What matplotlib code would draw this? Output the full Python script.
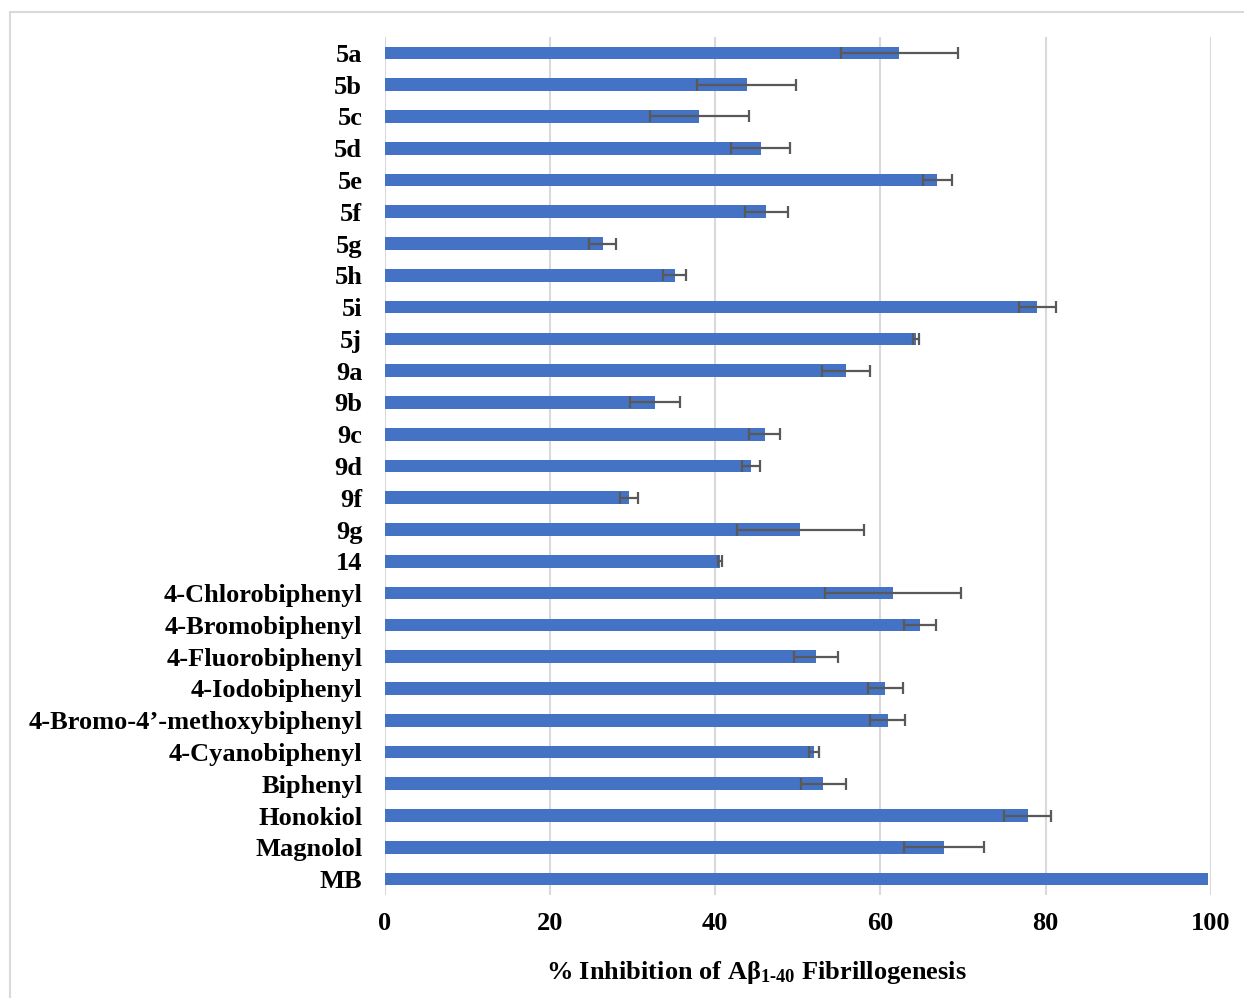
import matplotlib
matplotlib.use("Agg")
import matplotlib.pyplot as plt
import numpy as np
from matplotlib.patches import Rectangle

# data, top to bottom as in the chart
compounds = ["5a", "5b", "5c", "5d", "5e", "5f", "5g", "5h", "5i", "5j",
             "9a", "9b", "9c", "9d", "9f", "9g", "14",
             "4-Chlorobiphenyl", "4-Bromobiphenyl", "4-Fluorobiphenyl",
             "4-Iodobiphenyl", "4-Bromo-4\u2019-methoxybiphenyl",
             "4-Cyanobiphenyl", "Biphenyl", "Honokiol", "Magnolol", "MB"]
inhibition = [62.3, 43.8, 38.1, 45.5, 66.9, 46.2, 26.4, 35.1, 79.0, 64.3,
              55.8, 32.7, 46.0, 44.3, 29.6, 50.3, 40.6,
              61.5, 64.8, 52.2, 60.6, 60.9, 52.0, 53.1, 77.8, 67.7, 99.6]
error = [7.1, 6.0, 6.0, 3.6, 1.75, 2.6, 1.6, 1.4, 2.2, 0.4,
         2.9, 3.0, 1.9, 1.1, 1.1, 7.7, 0.2,
         8.2, 1.9, 2.7, 2.1, 2.1, 0.6, 2.7, 2.9, 4.8, np.nan]
xticks = [0, 20, 40, 60, 80, 100]

plt.rcParams['font.family'] = ['Liberation Serif', 'DejaVu Serif']
plt.rcParams['font.weight'] = 'bold'
plt.rcParams['mathtext.fontset'] = 'custom'
plt.rcParams['mathtext.rm'] = 'Liberation Serif:bold'
plt.rcParams['mathtext.bf'] = 'Liberation Serif:bold'
plt.rcParams['mathtext.it'] = 'Liberation Serif:bold'

W, H = 1244, 998
fig = plt.figure(figsize=(W / 100, H / 100), dpi=100)
ax = fig.add_axes([384.5 / W, 1 - 895 / H, (1211 - 384.5) / W, (895 - 37) / H])

# chart border
fig.patches.append(Rectangle((10 / W, -0.01), 1.0, 1 - 12 / H + 0.01,
                             transform=fig.transFigure, fill=False,
                             edgecolor='#d9d9d9', linewidth=1.5))

y = np.arange(len(compounds))
ax.barh(y, inhibition, height=0.4, color='#4472C4', zorder=2,
        xerr=error, error_kw=dict(ecolor='#595959', elinewidth=1.6,
                                  capsize=4.5, capthick=1.6, zorder=3))

ax.set_ylim(len(compounds) - 0.5, -0.5)
ax.set_xlim(0, 100)
ax.set_xticks(xticks)
ax.set_yticks(y)
ax.set_yticklabels(compounds)
ax.tick_params(axis='y', length=0, pad=16, labelsize=19)
ax.tick_params(axis='x', length=0, pad=12, labelsize=19)

ax.grid(axis='x', color='#d9d9d9', linewidth=1.5, zorder=0)
ax.set_axisbelow(True)
for s in ax.spines.values():
    s.set_visible(False)

fig.text(756 / W, 1 - 972 / H,
         '% Inhibition of A\u03b2$_{1\\text{-}40}$ Fibrillogenesis',
         ha='center', va='center', fontsize=19, fontweight='bold')

fig.savefig('out.png', dpi=100)
